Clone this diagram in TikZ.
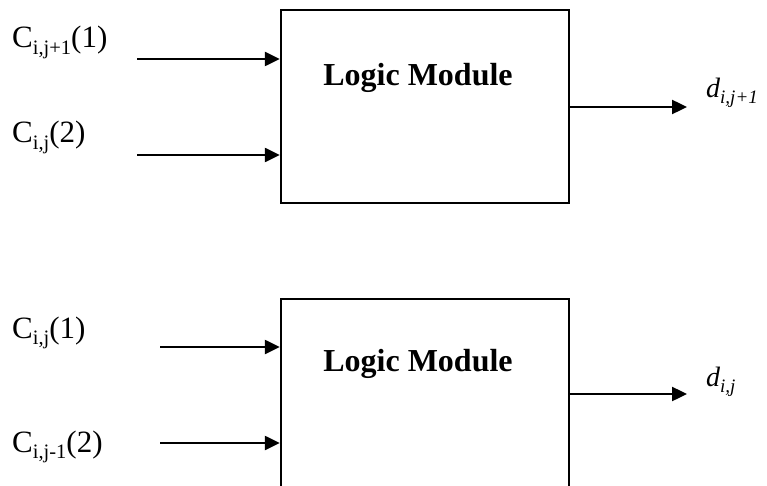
\documentclass[tikz,border=0pt]{standalone}
\usepackage{fontspec}
\setmainfont{Liberation Serif}
\usetikzlibrary{arrows.meta}
\newcommand{\lblC}[2]{\fontsize{31}{33}\selectfont C\raisebox{-6.5pt}{\fontsize{20.5}{22}\selectfont #1}(#2)}
\newcommand{\lblD}[1]{\fontsize{28}{30}\selectfont\itshape d\raisebox{-6pt}{\fontsize{19}{21}\selectfont #1}}
\begin{document}
\begin{tikzpicture}[x=1pt,y=-1pt,
  modbox/.style={draw,line width=2.4pt,minimum width=288pt,inner sep=0pt},
  lbl/.style={anchor=base west,inner sep=0pt},
  title/.style={anchor=base,inner sep=0pt,font=\fontsize{32}{34}\selectfont\bfseries},
  conn/.style={line width=2.4pt,-{Triangle[length=15pt,width=14pt]}}]
\useasboundingbox (0,0) rectangle (767,486);
\begin{scope}
\clip (0,0) rectangle (767,486);
% top module
\node[modbox,minimum height=193pt] (m1) at (425,106.5) {};
\node[title] (t1) at (418,86) {Logic Module};
\coordinate (a1) at (137,59);
\coordinate (a2) at (137,155);
\coordinate (o1) at (687,107);
\draw[conn] (a1) -- (a1 -| m1.west);
\draw[conn] (a2) -- (a2 -| m1.west);
\draw[conn] (o1 -| m1.east) -- (o1);
\node[lbl] (c1) at (12,48) {\lblC{i,j+1}{1}};
\node[lbl] (c2) at (12,143) {\lblC{i,j}{2}};
\node[lbl] (d1) at (706,98) {\lblD{i,j+1}};
% bottom module
\node[modbox,minimum height=261pt] (m2) at (425,429.5) {};
\node[title] (t2) at (418,371) {Logic Module};
\coordinate (b1) at (160,347);
\coordinate (b2) at (160,443);
\coordinate (o2) at (687,394);
\draw[conn] (b1) -- (b1 -| m2.west);
\draw[conn] (b2) -- (b2 -| m2.west);
\draw[conn] (o2 -| m2.east) -- (o2);
\node[lbl] (c3) at (12,338) {\lblC{i,j}{1}};
\node[lbl] (c4) at (12,452) {\lblC{i,j-1}{2}};
\node[lbl] (d2) at (706,386) {\lblD{i,j}};
\end{scope}
\end{tikzpicture}
\end{document}
